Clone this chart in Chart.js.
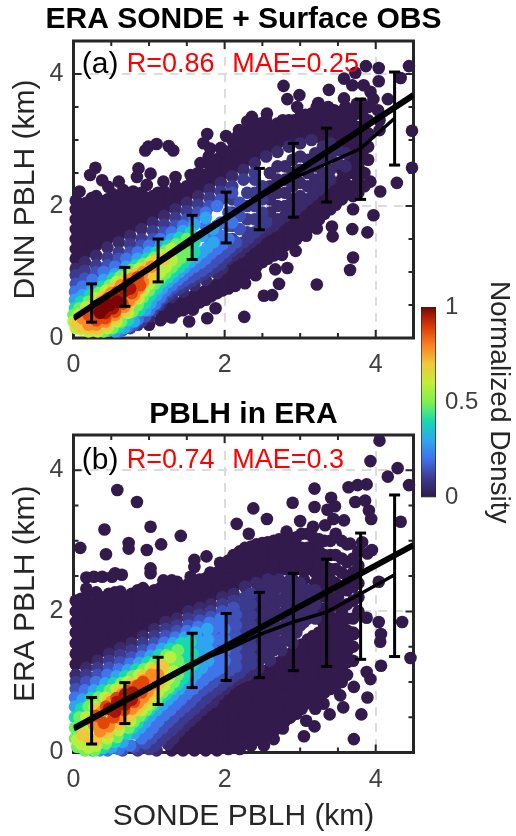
<!DOCTYPE html>
<html>
<head>
<meta charset="utf-8">
<script src="https://cdn.jsdelivr.net/npm/chart.js@4"></script>
<style>
  html, body { margin: 0; padding: 0; background: #fff; }
  body { width: 516px; height: 836px; position: relative; overflow: hidden; }
  .box { position: absolute; }
</style>
</head>
<body>
<div class="box" style="left:0;top:0;width:487px;height:382px"><canvas id="chartA"></canvas></div>
<div class="box" style="left:0;top:395px;width:487px;height:441px"><canvas id="chartB"></canvas></div>
<div class="box" style="left:410px;top:270px;width:106px;height:270px"><canvas id="chartBar"></canvas></div>
<script>
const xTickLabels = [0, 2, 4];
const yTickLabels = [0, 2, 4];
const barTickLabels = [0, 0.5, 1];
const barStops = [0, .1, .2, .3, .4, .5, .6, .7, .8, .9, 1];
const barColors = ['#2e1a47', '#3b3a8c', '#4070e8', '#2fa5f0', '#18d8b0', '#7cf050', '#c0ee3a', '#f0c83c', '#fb8022', '#d93806', '#7a0403'];
const levelColors = ['#331a4c', '#3a2a6a', '#3b3a8c', '#3f50b8', '#3f75e8', '#2fa5f0', '#18d8b0', '#6cf060', '#b8f040', '#f0c83c', '#fb8a24', '#e4460a', '#a51505', '#7a0403'];

// bins shared by both panels
const binX = [.24, .68, 1.12, 1.57, 2.02, 2.46, 2.91, 3.35, 3.8, 4.25];

// panel (a)
const aFitX = [0, 4.5];
const aFitY = [.3, 3.68];
const aMean = [.52, .78, 1.17, 1.53, 1.84, 2.12, 2.42, 2.64, 2.87, 3.33];
const aHigh = [.82, 1.07, 1.5, 1.86, 2.21, 2.57, 2.95, 3.18, 3.62, 4.03];
const aLow = [.24, .48, .85, 1.19, 1.44, 1.64, 1.83, 2.06, 2.1, 2.62];
const aNotes = ['(a)', 'R=0.86', 'MAE=0.25'];

// panel (b)
const bFitX = [0, 4.5];
const bFitY = [.34, 2.94];
const bMean = [.5, .72, 1.01, 1.27, 1.45, 1.67, 1.85, 1.99, 2.25, 2.52];
const bHigh = [.78, .99, 1.35, 1.69, 1.97, 2.27, 2.54, 2.74, 3.11, 3.65];
const bLow = [.12, .41, .68, .92, 1.02, 1.06, 1.16, 1.22, 1.32, 1.36];
const bNotes = ['(b)', 'R=0.74', 'MAE=0.3'];

// lowest density, isolated dots: [x, y]
const aOutliers = [[3.87,4.12],[4.04,4.09],[4.44,4.12],[4.33,3.94],[3.58,3.93],[3.73,4.02],[4.04,3.89],[3.69,3.83],[3.84,3.83],[2.78,3.82],[3.93,3.73],[3.38,3.76],[2.83,3.62],[2.99,3.68],[3.58,3.63],[4.16,3.62],[3.97,3.62],[3.24,3.56],[2.96,3.5],[4.03,3.45],[4.48,3.14],[4.48,2.58],[4.28,2.35],[4.06,2.22],[3.93,2.37],
  [.95,2.84],[1.1,2.94],[1.26,2.91],[1.32,2.84],[.99,2.9],[1.77,3.09],[1.72,2.95],[1.81,2.87],[1.68,2.65],[1.79,2.75],[2.02,3.06],[2.19,3.15],[2.36,3.35],[2.3,3.28],[2.56,3.4],[.29,2.58],[.22,2.47],[.38,2.39],[.46,2.29],[.6,2.37],[.08,2.22],[.86,2.57],[.84,2.44],[1.02,2.49],[1.35,2.44],[1.19,2.37],[1.55,2.47],[.66,2.24],[.79,2.22],[.97,2.32],
  [3.22,.81],[3.7,1.22],[3.66,1.03],[3.97,1.86],[3.89,1.6],[3.69,1.65],[2.26,.32],[1.77,.3],[1.53,.25],[1.88,.45],[1.58,.43],[1.3,.31],[2.52,.64],[2.63,.65],[2.72,.82],[2.67,1.04],[2.83,1.06],[2.94,1.32],[2.76,1.26],[2.49,1.18],[2.41,.95],[2.14,.79],[2.27,.83],[3.08,1.55],[3.43,1.54],[3.18,1.76],[3.42,1.69],[3.22,1.66]];

// dark cloud, one row per column: [x, y, y, ...]
const aColumns = [[.03,1.2,1.35,1.5,1.65,1.8,1.95,2.08],[.17,1.3,1.45,1.6,1.75,1.9,2.05],[.3,1.4,1.55,1.7,1.85,2,2.15],[.45,1.5,1.65,1.8,1.95,2.1],[.6,1.55,1.7,1.85,2,2.15],[.75,1.65,1.8,1.95,2.1],[.9,1.75,1.9,2.05,2.2],[1.05,1.85,2,2.15],[1.2,1.95,2.1,2.22],[1.35,2.05,2.2,2.3],[1.5,2.15,2.3],[1.65,2.25,2.4,2.5],[1.8,2.35,2.5,2.62],[1.95,2.45,2.6,2.75,2.88],[2.1,2.55,2.7,2.85,3],[2.25,2.65,2.8,2.95,3.1],[2.4,2.75,2.9,3.05,3.2],[2.55,2.85,3,3.15,3.3],[2.7,2.95,3.1,3.25],[2.85,3,3.15,3.3],[3,3.05,3.2,3.35],[3.15,3.1,3.25,3.4],[3.3,3,3.15,3.3,3.45],[3.45,3,3.15,3.3,3.45],[3.6,2.9,3.05,3.2,3.35,3.5],[3.75,2.7,2.85,3,3.2,3.4,3.55],[3.9,2.7,2.9,3.1,3.3,3.5],[4.05,3.15,3.3],
  [1,.2],[1.15,.27,.4],[1.3,.38,.5],[1.45,.42,.55],[1.6,.5,.65],[1.75,.58,.72],[1.9,.68,.82],[2.05,.75,.9,1.05],[2.2,.88,1.02,1.17],[2.35,1,1.15,1.3],[2.5,1.15,1.3,1.45],[2.65,1.25,1.4,1.55],[2.8,1.4,1.55,1.7],[2.95,1.5,1.65,1.8],[3.1,1.65,1.8,1.95],[3.25,1.8,1.95,2.1],[3.4,1.95,2.1,2.25],[3.55,2.1,2.25,2.4,2.55],[3.7,1.95,2.15,2.3,2.5,2.7],[3.85,2.3,2.5]];
const aColumnsFill = [[.1,1.28,1.43,1.58,1.73,1.88,2.03],[.24,1.38,1.53,1.68,1.83,1.98,2.12],[.37,1.47,1.62,1.77,1.92,2.07],[.52,1.58,1.73,1.88,2.03,2.18],[.67,1.62,1.77,1.92,2.07],[.82,1.72,1.87,2.02,2.17],[.97,1.82,1.97,2.12],[1.12,1.92,2.07,2.2],[1.27,2.02,2.17],[1.42,2.12,2.25],[1.57,2.22,2.36],[1.72,2.32,2.47],[1.87,2.42,2.57,2.7],[2.02,2.52,2.67,2.82],[2.17,2.62,2.77,2.92,3.05],[2.32,2.72,2.87,3.02,3.15],[2.47,2.82,2.97,3.12,3.25],[2.62,2.9,3.05,3.2],[2.77,3,3.15,3.3],[2.92,3.05,3.2,3.3],[3.07,3.1,3.25,3.38],[3.22,3.08,3.22,3.38,3.5],[3.37,3.08,3.22,3.38,3.5],[3.52,2.98,3.12,3.28,3.42],[3.67,2.8,2.95,3.1,3.28,3.45],[3.82,2.8,3,3.2,3.4,3.55],
  [1.22,.33,.45],[1.37,.4,.52],[1.52,.46,.6],[1.67,.54,.68],[1.82,.63,.77],[1.97,.72,.87],[2.12,.82,.97,1.12],[2.27,.95,1.1,1.25],[2.42,1.08,1.22,1.38],[2.57,1.2,1.35,1.5],[2.72,1.32,1.47,1.62],[2.87,1.45,1.6,1.75],[3.02,1.58,1.72,1.88],[3.17,1.72,1.88,2.02],[3.32,1.88,2.02,2.18],[3.47,2.02,2.18,2.32],[3.62,2.18,2.32,2.48,2.62],[3.77,2.2,2.4,2.6,2.8]];

const aLevel1 = [[.03,1.05],[.15,1.15],[.3,1.25],[.45,1.37],[.6,1.45],[.75,1.55],[.9,1.65],[1.05,1.75],[1.2,1.85],[1.35,1.95],[1.5,2.05],[1.65,2.15],[1.8,2.25],[1.95,2.35],[2.1,2.45],[2.25,2.55],[2.4,2.65],[2.55,2.75],[2.7,2.82],[2.85,2.9],[3,2.95],[3.15,3],[.85,.2],[1,.32],[1.15,.5],[1.3,.62],[1.45,.7],[1.6,.8],[1.75,.88],[1.9,.98],[2.05,1.2],[2.2,1.3],[2.35,1.45],[2.5,1.6],[2.65,1.7],[2.8,1.85],[2.95,1.95],[3.1,2.1],[3.25,2.25],[3.4,2.4],[2.6,1.9],[2.6,2.1],[2.6,2.3],[2.6,2.5],[2.8,2],[2.8,2.2],[2.8,2.4],[2.8,2.6],[3,2.15],[3,2.35],[3,2.55],[3,2.75],[3.2,2.4],[3.2,2.6],[3.2,2.8],[3.4,2.55],[3.4,2.75],[3.4,2.95],[3.6,2.6],[3.6,2.8],[2.7,1.8],[2.7,2],[2.7,2.2],[2.7,2.4],[2.7,2.6],[2.9,2.1],[2.9,2.3],[2.9,2.5],[2.9,2.7],[3.1,2.3],[3.1,2.5],[3.1,2.7],[3.3,2.5],[3.3,2.7],[3.3,2.9],[3.5,2.65],[3.5,2.85],[1.97,1.05],[2.12,1.25],[2.27,1.38],[2.42,1.52],[2.57,1.65],[2.72,1.78],[2.87,1.9],[3.02,2.02],[3.17,2.17],[3.32,2.32]];
const aLevel2 = [[.03,.95],[.15,1.02],[.3,1.1],[.45,1.22],[.6,1.3],[.75,1.42],[.9,1.5],[1.05,1.62],[1.2,1.72],[1.35,1.82],[1.5,1.92],[1.65,2.02],[1.8,2.12],[1.95,2.22],[2.1,2.3],[2.25,2.4],[2.4,2.5],[.75,.15],[.9,.25],[1.05,.42],[1.2,.6],[1.35,.72],[1.5,.82],[1.65,.92],[1.8,1.02],[1.95,1.12],[2.1,1.32],[2.25,1.45],[2.4,1.6],[2.55,1.75],[2.1,1.5],[2.1,1.7],[2.1,1.9],[2.1,2.1],[2.3,1.6],[2.3,1.8],[2.3,2],[2.3,2.2],[2.5,1.9],[2.5,2.1],[2.5,2.3],[1.12,.5],[1.27,.66],[1.42,.77],[1.57,.87],[1.72,.97],[1.87,1.07],[2.02,1.22],[2.17,1.38],[2.32,1.52],[2.47,1.67],[2.4,1.8],[2.4,2],[2.4,2.2],[2.4,2.4]];
const aLevel3 = [[.03,.82],[.15,.9],[.3,1],[.45,1.1],[.6,1.2],[.75,1.3],[.9,1.4],[1.05,1.5],[1.2,1.6],[1.35,1.7],[1.5,1.8],[1.65,1.9],[1.8,2],[1.95,2.1],[2.1,2.2],[.65,.12],[.8,.2],[.95,.33],[1.1,.52],[1.25,.7],[1.4,.82],[1.55,.92],[1.7,1.02],[1.85,1.15],[2,1.3],[2.15,1.45],[1.9,1.5],[1.9,1.7],[2.05,1.5],[2.05,1.7],[2.05,1.9],[2.2,1.65],[2.2,1.85],[2.2,2.05],[1.02,.42],[1.17,.6],[1.32,.76],[1.47,.87],[1.62,.97],[1.77,1.08],[1.92,1.22],[2.07,1.37]];
const aLevel4 = [[.02,.7],[.12,.78],[.25,.88],[.4,1],[.55,1.08],[.7,1.2],[.85,1.3],[1,1.4],[1.15,1.5],[1.3,1.6],[1.45,1.7],[1.6,1.8],[1.75,1.9],[1.9,2],[.6,.1],[.72,.17],[.85,.28],[1,.42],[1.15,.62],[1.3,.8],[1.45,.95],[1.6,1.08],[1.75,1.2],[1.9,1.35],[2.05,1.5],[1.8,1.5],[1.95,1.55],[1.95,1.75],[2.1,1.75],[1.75,1.7],[1.08,.52],[1.22,.72],[1.38,.88],[1.52,1.02],[1.68,1.14],[1.82,1.28],[1.97,1.42]];
const aLevel5 = [[.02,.58],[.12,.65],[.25,.75],[.4,.88],[.55,.97],[.7,1.08],[.85,1.2],[1,1.3],[1.15,1.4],[1.3,1.5],[1.45,1.62],[1.6,1.72],[1.75,1.82],[.55,.1],[.67,.15],[.8,.25],[.95,.42],[1.1,.65],[1.25,.85],[1.4,1],[1.55,1.15],[1.7,1.3],[1.85,1.45],[1.7,1.55],[1.55,1.4],[1.85,1.65],[1.02,.53],[1.17,.75],[1.32,.92],[1.47,1.07],[1.62,1.22],[1.77,1.37]];
const aLevel6 = [[.02,.45],[.1,.55],[.22,.65],[.38,.78],[.52,.9],[.68,1],[.82,1.1],[.97,1.2],[1.1,1.3],[1.25,1.4],[1.4,1.52],[1.55,1.6],[.48,.12],[.6,.17],[.72,.27],[.87,.42],[1.02,.65],[1.17,.85],[1.32,1],[1.47,1.15],[1.6,1.3],[1.45,1.35],[1.6,1.45],[.95,.53],[1.1,.75],[1.25,.92],[1.4,1.07],[1.53,1.22]];
const aLevel7 = [[0,.35],[.08,.45],[.2,.55],[.33,.68],[.48,.8],[.62,.93],[.77,1.03],[.92,1.12],[1.07,1.22],[1.22,1.32],[1.36,1.42],[1.5,1.5],[.4,.1],[.52,.15],[.63,.25],[.78,.4],[.92,.62],[1.07,.82],[1.22,.98],[1.36,1.15],[1.5,1.3],[.85,.5],[1,.72],[1.15,.9],[1.3,1.07],[1.43,1.22]];
const aLevel8 = [[0,.25],[.07,.35],[.17,.47],[.3,.6],[.43,.72],[.57,.85],[.72,.95],[.87,1.05],[1.02,1.15],[1.17,1.25],[1.3,1.35],[.03,.15],[.1,.13],[.2,.1],[.32,.1],[.45,.15],[.57,.25],[.72,.38],[.86,.6],[1,.82],[1.15,1],[1.3,1.18],[.93,.72],[1.08,.92],[1.22,1.08]];
const aLevel9 = [[.04,.22],[.12,.2],[.15,.38],[.27,.5],[.4,.62],[.53,.75],[.67,.87],[.82,.97],[.97,1.08],[1.1,1.18],[1.2,1.2],[.1,.17],[.2,.15],[.32,.14],[.43,.2],[.55,.3],[.68,.42],[.82,.62],[.95,.85],[1.05,1],[.75,.52],[.88,.74],[1,.93]];
const aLevel10 = [[.12,.3],[.25,.42],[.37,.55],[.5,.68],[.63,.8],[.77,.9],[.92,1],[1.03,1.08],[.2,.2],[.3,.2],[.42,.25],[.55,.35],[.67,.47],[.8,.65],[.92,.85],[.73,.56],[.86,.75]];
const aLevel11 = [[.2,.35],[.32,.48],[.45,.6],[.58,.7],[.72,.82],[.85,.92],[.3,.27],[.42,.3],[.55,.4],[.65,.52],[.77,.68],[.88,.8]];
const aLevel12 = [[.33,.42],[.45,.52],[.55,.6],[.68,.72],[.75,.75],[.42,.38],[.52,.45],[.62,.55]];
const aLevel13 = [[.4,.45],[.48,.5],[.58,.55],[.35,.38]];

const bOutliers = [[4.05,4.42],[3.93,4.13],[4.29,4.03],[4.16,3.91],[4.44,3.79],[3.64,3.76],[3.76,3.79],[3.88,3.8],[3.19,3.74],[3.41,3.61],[3.73,3.55],[3.86,3.57],[3.91,3.43],[3.94,3.31],[2.9,3.54],[3.19,3.48],[3.36,3.44],[3.46,3.49],[2.38,3.46],[2.56,3.31],[2.16,3.24],[3,3.28],[4.33,3.27],[2.32,3.1],[2.82,3.13],[3.58,3.29],[3.44,3.31],[3.33,3.22],
  [.58,3.72],[.84,3.55],[.41,3.16],[1.02,3.2],[1.42,3.07],[.09,2.9],[.73,2.97],[.73,2.89],[1.16,2.95],[.97,2.87],[.43,2.81],[1.76,2.78],[1.6,2.73],[1.94,2.69],[1.6,2.63],[1.02,2.61],[1.02,2.54],[.17,2.48],[.27,2.49],[.38,2.49],[.55,2.54],[.64,2.52],[.51,2.49],[.17,2.32],[.3,2.27],[1.19,2.44],[1.3,2.44],[1.55,2.49],[1.52,2.39],[1.81,2.55],[3.66,2.96],[3.82,2.98],[3.95,2.87],[4.04,2.42],[3.89,2.82],
  [4.46,1.34],[4.35,1.85],[4.04,1.85],[4.07,1.68],[4.06,1.57],[4.07,1.23],[3.88,1.91],[3.71,1.68],[3.93,1.04],[3.89,.78],[3.81,.54],[3.71,.19],[3.57,.64],[3.39,.54],[3.19,.37],[3.05,.23],[3.08,.45],[2.85,.49],[2.77,.34],[2.65,.19],[2.52,.1],[3.88,1.14],[3.71,.93],[3.53,.81],[3.2,.62],[3.31,.69]];

const bColumns = [[.03,1.25,1.4,1.55,1.7,1.85,2,2.15],[.17,1.3,1.45,1.6,1.75,1.9,2.05,2.2],[.32,1.4,1.55,1.7,1.85,2,2.15],[.47,1.5,1.65,1.8,1.95,2.1,2.25],[.62,1.55,1.7,1.85,2,2.15,2.28],[.77,1.65,1.8,1.95,2.1,2.25],[.92,1.75,1.9,2.05,2.2,2.33],[1.07,1.85,2,2.15,2.3],[1.22,1.95,2.1,2.25],[1.37,2,2.15,2.3,2.42],[1.52,2.1,2.25],[1.67,2.15,2.3,2.45],[1.82,2.2,2.35,2.5],[1.97,2.3,2.45,2.6],[2.12,2.35,2.5,2.65,2.8],[2.27,2.45,2.6,2.75,2.9],[2.42,2.5,2.65,2.8,2.95],[2.57,2.55,2.7,2.85,2.98],[2.72,2.6,2.75,2.9,3.02],[2.87,2.6,2.75,2.9,3],[3.02,2.6,2.75,2.9,3.1],[3.17,2.6,2.75,2.9,3.05,3.2],[3.32,2.5,2.65,2.8,3],[3.47,2.4,2.6,2.8,3.1],[3.62,2.3,2.5,2.7,2.95],[3.77,2,2.2,2.4,2.65,2.85],
  [1.3,.03],[1.45,.03,.15,.3],[1.6,.03,.18,.33,.45],[1.75,.03,.18,.33,.48,.6],[1.9,.03,.18,.33,.48,.63,.75],[2.05,.05,.2,.35,.5,.65,.78],[2.2,.05,.2,.35,.5,.65,.8,.93],[2.35,.1,.25,.4,.55,.7,.85,1],[2.5,.2,.35,.5,.65,.8,.95,1.1],[2.65,.3,.45,.6,.75,.9,1.05,1.2],[2.8,.45,.6,.75,.9,1.05,1.2,1.35],[2.95,.55,.7,.85,1,1.15,1.3,1.45],[3.1,.7,.85,1,1.15,1.3,1.45,1.6],[3.25,.8,.95,1.1,1.25,1.4,1.55,1.7],[3.4,.9,1.05,1.2,1.35,1.5,1.65,1.8],[3.55,1,1.2,1.35,1.5,1.65,1.8,2],[3.7,1.3,1.5,1.7,1.9]];
const bColumnsFill = [[.1,1.28,1.43,1.58,1.73,1.88,2.03,2.18],[.25,1.35,1.5,1.65,1.8,1.95,2.1],[.4,1.45,1.6,1.75,1.9,2.05,2.2],[.55,1.52,1.67,1.82,1.97,2.12,2.27],[.7,1.6,1.75,1.9,2.05,2.2],[.85,1.7,1.85,2,2.15,2.3],[1,1.8,1.95,2.1,2.25],[1.15,1.9,2.05,2.2,2.33],[1.3,1.97,2.12,2.27,2.38],[1.45,2.05,2.2,2.35],[1.6,2.12,2.27,2.4],[1.75,2.17,2.32,2.47],[1.9,2.25,2.4,2.55],[2.05,2.32,2.47,2.62,2.72],[2.2,2.4,2.55,2.7,2.85],[2.35,2.47,2.62,2.77,2.92],[2.5,2.52,2.67,2.82,2.97],[2.65,2.57,2.72,2.87,3],[2.8,2.6,2.75,2.9,3.02],[2.95,2.6,2.75,2.9,3.05],[3.1,2.6,2.75,2.9,3.1],[3.25,2.55,2.7,2.85,3.02],[3.4,2.45,2.6,2.8,3],[3.55,2.35,2.55,2.75,3],[3.7,2.15,2.35,2.55,2.75],
  [1.37,.1,.22],[1.52,.1,.25,.38],[1.67,.1,.25,.4,.53],[1.82,.1,.25,.4,.55,.68],[1.97,.1,.25,.4,.55,.7,.83],[2.12,.12,.28,.43,.58,.72,.87],[2.27,.15,.3,.45,.6,.75,.9,1.03],[2.42,.18,.33,.48,.63,.78,.93,1.08],[2.57,.27,.42,.57,.72,.87,1.02,1.17],[2.72,.38,.53,.68,.83,.98,1.13,1.28],[2.87,.5,.65,.8,.95,1.1,1.25,1.4],[3.02,.62,.78,.93,1.08,1.23,1.38,1.53],[3.17,.75,.9,1.05,1.2,1.35,1.5,1.65],[3.32,.85,1,1.15,1.3,1.45,1.6,1.75,1.9],[3.47,.95,1.12,1.28,1.43,1.58,1.73,1.9,2.1],[3.62,1.1,1.28,1.43,1.58,1.73,1.9,2.1],
  [2.9,2.45,2.6],[3.05,2.45,2.6],[3.2,2.4,2.55],[3.35,2.2,2.35,2.05],[3.25,2.05,2.2,2.35],[3.4,1.9,2.05,2.2],[3.5,2.2,2.35],[3.3,1.85,1.7]];

const bLevel1 = [[.03,1.1],[.17,1.2],[.32,1.3],[.47,1.4],[.62,1.48],[.77,1.55],[.92,1.65],[1.07,1.75],[1.22,1.85],[1.37,1.9],[1.52,2],[1.67,2.05],[1.82,2.1],[1.97,2.2],[2.12,2.25],[2.27,2.35],[2.42,2.4],[2.57,2.45],[2.72,2.45],[2.87,2.45],[1.1,.03],[1.25,.12],[1.4,.3],[1.55,.45],[1.7,.6],[1.85,.72],[2,.9],[2.15,1.03],[2.3,1.1],[2.45,1.2],[2.6,1.3],[2.75,1.45],[2.9,1.55],[2.4,1.4],[2.4,1.6],[2.4,1.8],[2.4,2],[2.4,2.2],[2.6,1.5],[2.6,1.7],[2.6,1.9],[2.6,2.1],[2.6,2.3],[2.8,1.6],[2.8,1.8],[2.8,2],[2.8,2.2],[2.8,2.4],[3,1.8],[3,2],[3,2.2],[3,2.4],[3.2,1.9],[3.2,2.1],[3.2,2.3],[2.5,1.4],[2.5,1.6],[2.5,1.8],[2.5,2],[2.5,2.2],[2.7,1.55],[2.7,1.75],[2.7,1.95],[2.7,2.15],[2.7,2.35],[2.9,1.7],[2.9,1.9],[2.9,2.1],[2.9,2.3],[3.1,1.9],[3.1,2.1],[3.1,2.3],[1.32,.2],[1.47,.38],[1.62,.52],[1.77,.67],[1.92,.82],[2.07,.97],[2.22,1.07],[2.37,1.15],
  [2.45,1.3],[2.45,1.5],[2.45,1.7],[2.45,1.9],[2.45,2.1],[2.45,2.3],[2.55,1.4],[2.55,1.6],[2.55,1.8],[2.55,2],[2.55,2.2],[2.55,2.38],[2.65,1.45],[2.65,1.65],[2.65,1.85],[2.65,2.05],[2.65,2.25],[2.65,2.42],[2.75,1.55],[2.75,1.75],[2.75,1.95],[2.75,2.15],[2.75,2.35],[2.85,1.65],[2.85,1.85],[2.85,2.05],[2.85,2.25],[2.85,2.4],[2.95,1.7],[2.95,1.9],[2.95,2.1],[2.95,2.3],[3.05,1.85],[3.05,2.05],[3.05,2.25],[3.15,2],[3.15,2.2]];
const bLevel2 = [[.03,1],[.17,1.1],[.32,1.2],[.47,1.3],[.62,1.38],[.77,1.45],[.92,1.55],[1.07,1.65],[1.22,1.75],[1.37,1.8],[1.52,1.9],[1.67,1.95],[1.82,2],[1.97,2.1],[2.12,2.15],[2.27,2.2],[.85,.03],[1,.05],[1.15,.17],[1.3,.32],[1.45,.48],[1.6,.62],[1.75,.77],[1.9,.9],[2.05,1.02],[2.2,1.13],[2.35,1.25],[2.1,1.3],[2.1,1.5],[2.1,1.7],[2.1,1.9],[2.3,1.4],[2.3,1.6],[2.3,1.8],[2.3,2],[1.08,.1],[1.22,.25],[1.38,.4],[1.52,.55],[1.68,.7],[1.82,.84],[1.97,.96],[2.12,1.08],[2.27,1.2],[2.2,1.3],[2.2,1.5],[2.2,1.7],[2.2,1.9],[2.25,1.35],[2.25,1.5],[2.25,1.65],[2.25,1.8],[2.25,1.95],[2.25,2.08],[2.35,1.35],[2.35,1.5],[2.35,1.65],[2.35,1.8],[2.35,1.95],[2.35,2.1],[2.35,2.25]];
const bLevel3 = [[.03,.9],[.17,1],[.32,1.1],[.47,1.2],[.62,1.28],[.77,1.35],[.92,1.45],[1.07,1.55],[1.22,1.65],[1.37,1.72],[1.52,1.8],[1.67,1.87],[1.82,1.92],[1.97,2],[2.12,2.05],[.65,.03],[.8,.08],[.95,.13],[1.1,.28],[1.25,.43],[1.4,.58],[1.55,.72],[1.7,.88],[1.85,1],[2,1.12],[2.15,1.22],[1.95,1.3],[1.95,1.5],[1.95,1.7],[2.1,1.4],[2.1,1.6],[2.1,1.8],[1.03,.2],[1.18,.35],[1.32,.5],[1.48,.65],[1.62,.8],[1.78,.94],[1.92,1.06],[2.07,1.17],[2.15,1.35],[2.15,1.5],[2.15,1.65],[2.15,1.8],[2.15,1.95],[2.05,1.35],[2.05,1.5],[2.05,1.65],[2.05,1.95]];
const bLevel4 = [[.02,.78],[.15,.88],[.3,1],[.45,1.1],[.6,1.18],[.75,1.26],[.9,1.36],[1.05,1.46],[1.2,1.56],[1.35,1.63],[1.5,1.72],[1.65,1.78],[1.8,1.84],[1.95,1.9],[.45,.03],[.6,.05],[.75,.1],[.9,.2],[1.05,.35],[1.2,.53],[1.35,.68],[1.5,.83],[1.65,.97],[1.8,1.1],[1.95,1.2],[1.8,1.3],[1.8,1.5],[1.8,1.7],[1.95,1.4],[1.95,1.6],[.98,.27],[1.12,.44],[1.28,.6],[1.42,.75],[1.58,.9],[1.72,1.03],[1.88,1.15],[1.85,1.3],[1.85,1.45],[1.85,1.6],[1.85,1.75],[1.75,1.25],[1.75,1.4],[1.75,1.65],[2,1.3],[2,1.45],[2,1.6],[2,1.75],[1.9,1.25],[1.9,1.8]];
const bLevel5 = [[.02,.65],[.12,.75],[.27,.88],[.42,.98],[.57,1.08],[.72,1.17],[.87,1.27],[1.02,1.37],[1.17,1.47],[1.32,1.55],[1.47,1.63],[1.62,1.7],[1.77,1.75],[.35,.03],[.5,.07],[.65,.15],[.8,.27],[.95,.43],[1.1,.6],[1.25,.75],[1.4,.9],[1.55,1.03],[1.7,1.2],[1.7,1.4],[1.7,1.55],[.88,.35],[1.02,.52],[1.18,.68],[1.32,.82],[1.48,.97],[1.62,1.12],[1.63,1.3],[1.63,1.45],[1.63,1.6],[1.78,1.3],[1.78,1.45],[1.78,1.6]];
const bLevel6 = [[.02,.5],[.1,.62],[.23,.77],[.38,.88],[.53,.98],[.68,1.08],[.83,1.18],[.98,1.28],[1.13,1.38],[1.28,1.47],[1.43,1.55],[1.55,1.57],[.25,.03],[.4,.07],[.55,.15],[.7,.27],[.85,.42],[1,.6],[1.15,.75],[1.3,.9],[1.45,1.05],[1.58,1.25],[1.58,1.4],[.78,.35],[.92,.52],[1.08,.68],[1.22,.82],[1.38,.97],[1.52,1.15],[1.5,1.3],[1.5,1.45],[1.42,1.35]];
const bLevel7 = [[.02,.35],[.02,.2],[.05,.08],[.15,.03],[.08,.5],[.2,.65],[.33,.78],[.48,.88],[.63,.98],[.78,1.08],[.93,1.18],[1.08,1.28],[1.23,1.38],[1.38,1.45],[.28,.03],[.43,.13],[.58,.22],[.73,.35],[.88,.52],[1.03,.68],[1.18,.85],[1.33,1],[1.42,1.2],[.8,.44],[.96,.6],[1.1,.76],[1.26,.92],[1.38,1.1],[1.3,1.2],[1.3,1.32],[1.38,1.3]];
const bLevel8 = [[.05,.18],[.1,.12],[.15,.3],[.17,.5],[.28,.65],[.42,.78],[.57,.9],[.72,1],[.87,1.1],[1.02,1.2],[1.17,1.3],[1.28,1.35],[.2,.07],[.3,.1],[.45,.2],[.6,.32],[.75,.45],[.9,.6],[1.05,.78],[1.2,.95],[1.32,1.15],[.98,.68],[1.12,.86],[1.26,1.05],[1.2,1.15]];
const bLevel9 = [[.12,.25],[.2,.2],[.23,.45],[.33,.62],[.47,.75],[.62,.87],[.77,.98],[.92,1.08],[1.07,1.18],[1.18,1.22],[.3,.18],[.45,.28],[.6,.4],[.75,.52],[.9,.68],[1.03,.85],[1.15,1],[.83,.6],[.97,.76],[1.09,.92]];
const bLevel10 = [[.27,.4],[.38,.58],[.5,.72],[.65,.83],[.8,.93],[.93,1.02],[1.03,1.1],[1.12,1.1],[.35,.3],[.47,.37],[.62,.48],[.77,.62],[.92,.78],[1.03,.95],[.85,.7],[.98,.86]];
const bLevel11 = [[.3,.52],[.43,.65],[.57,.77],[.72,.87],[.85,.95],[.92,1],[.4,.42],[.53,.5],[.67,.6],[.8,.72],[.9,.85]];
const bLevel12 = [[.47,.62],[.58,.72],[.68,.82],[.78,.85],[.55,.58],[.68,.68],[.77,.75]];

const FONT = '"Liberation Sans", Arial, sans-serif';
const AXIS = '#262626';
Chart.defaults.font.family = FONT;
Chart.defaults.animation = false;
Chart.defaults.responsive = false;

function unrollColumns(columns) {
  return columns.flatMap(c => c.slice(1).map(y => [c[0], y]));
}

// ticks point inwards on all four sides, so they are drawn here and not by the scales
function frameAndNotes(notes) {
  return {
    id: 'frameAndNotes',
    beforeDatasetsDraw(chart) {
      const { ctx, chartArea: a, scales } = chart;
      ctx.save();
      ctx.strokeStyle = AXIS;
      ctx.lineWidth = 2;
      for (let v = 0; v <= 4.5; v += 0.5) {
        const big = v % 2 === 0 ? 8 : 5;
        const px = scales.x.getPixelForValue(v);
        const py = scales.y.getPixelForValue(v);
        ctx.beginPath();
        ctx.moveTo(px, a.bottom); ctx.lineTo(px, a.bottom - big);
        ctx.moveTo(px, a.top); ctx.lineTo(px, a.top + big);
        ctx.moveTo(a.left, py); ctx.lineTo(a.left + big, py);
        ctx.moveTo(a.right, py); ctx.lineTo(a.right - big, py);
        ctx.stroke();
      }
      ctx.lineWidth = 3;
      ctx.strokeRect(a.left, a.top, a.right - a.left, a.bottom - a.top);
      ctx.restore();
    },
    afterDatasetsDraw(chart) {
      const { ctx, scales } = chart;
      ctx.save();
      ctx.textBaseline = 'middle';
      ctx.textAlign = 'left';
      const y = scales.y.getPixelForValue(4.14);
      ctx.fillStyle = '#000';
      ctx.font = '30px ' + FONT;
      ctx.fillText(notes[0], scales.x.getPixelForValue(.11), y);
      ctx.fillStyle = '#ff0000';
      ctx.font = '27px ' + FONT;
      ctx.fillText(notes[1], scales.x.getPixelForValue(.705), y);
      ctx.fillText(notes[2], scales.x.getPixelForValue(2.1), y);
      ctx.restore();
    }
  };
}

function panel(id, o) {
  const datasets = [];
  o.levels.forEach((pts, i) => {
    datasets.push({
      data: pts.map(p => ({ x: p[0], y: p[1] })),
      showLine: false,
      pointRadius: 6.3,
      pointBorderWidth: 0,
      pointBackgroundColor: levelColors[i],
      clip: false,
      order: 100 - i
    });
  });
  datasets.push({
    data: o.fitX.map((x, i) => ({ x, y: o.fitY[i] })),
    showLine: true, borderColor: '#000', borderWidth: 6, pointRadius: 0, order: 3
  });
  datasets.push({
    data: binX.map((x, i) => ({ x, y: o.mean[i] })),
    showLine: true, borderColor: '#000', borderWidth: 3.5, pointRadius: 0, order: 2
  });
  binX.forEach((x, i) => {
    datasets.push({
      data: [{ x, y: o.low[i] }, { x, y: o.high[i] }],
      showLine: true, borderColor: '#000', borderWidth: 3,
      pointStyle: 'line', pointRadius: 5.5, pointBorderWidth: 3, pointBorderColor: '#000',
      clip: false, order: 1
    });
  });

  const gridFor = labels => ({
    drawTicks: false,
    color: c => (c.tick && c.tick.value > 0 && labels.includes(c.tick.value)) ? '#dcdcdc' : 'rgba(0,0,0,0)',
    lineWidth: 2
  });
  const tickText = labels => v => labels.includes(v) ? String(v) : '';

  return new Chart(document.getElementById(id), {
    type: 'scatter',
    data: { datasets },
    plugins: [frameAndNotes(o.notes)],
    options: {
      plugins: {
        legend: { display: false },
        tooltip: { enabled: false },
        title: {
          display: true, text: o.title, color: '#000',
          font: { size: 30, weight: 'bold', family: FONT, lineHeight: 1.2 },
          padding: { top: 2, bottom: o.titleGap }
        }
      },
      scales: {
        x: {
          type: 'linear', min: 0, max: 4.5,
          grid: gridFor(xTickLabels),
          border: { display: false, dash: [9, 7] },
          afterFit: s => { s.height = o.xHeight; },
          ticks: {
            stepSize: .5, autoSkip: false, maxRotation: 0, padding: o.xPad, color: '#404040',
            font: { size: 25, family: FONT }, callback: tickText(xTickLabels)
          },
          title: o.xTitle ? {
            display: true, text: o.xTitle, color: AXIS,
            font: { size: 30, family: FONT, lineHeight: 1.2 }, padding: { top: 0, bottom: 1 }
          } : { display: false }
        },
        y: {
          type: 'linear', min: 0, max: 4.5,
          grid: gridFor(yTickLabels),
          border: { display: false, dash: [9, 7] },
          afterFit: s => { s.width = 73.5; },
          ticks: {
            stepSize: .5, autoSkip: false, padding: 10, color: '#404040',
            font: { size: 25, family: FONT }, callback: tickText(yTickLabels)
          },
          title: {
            display: true, text: o.yTitle, color: AXIS,
            font: { size: 30, family: FONT, lineHeight: 1.2 }, padding: { top: 8, bottom: 0 }
          }
        },
        // empty scale on the right so the title stays centred over the plot
        yRight: {
          type: 'linear', position: 'right', min: 0, max: 4.5,
          grid: { display: false, drawTicks: false },
          border: { display: false },
          ticks: { display: false },
          afterFit: s => { s.width = 73.5; }
        }
      }
    }
  });
}

function sizeCanvas(id, w, h) {
  const c = document.getElementById(id);
  c.width = w; c.height = h;
  c.style.width = w + 'px'; c.style.height = h + 'px';
}
sizeCanvas('chartA', 487, 382);
sizeCanvas('chartB', 487, 441);
sizeCanvas('chartBar', 106, 270);

panel('chartA', {
  title: 'ERA SONDE + Surface OBS', titleGap: 3, xHeight: 44, xPad: 12,
  yTitle: 'DNN PBLH (km)', xTitle: null,
  levels: [aOutliers.concat(unrollColumns(aColumns), unrollColumns(aColumnsFill)), aLevel1, aLevel2, aLevel3, aLevel4, aLevel5, aLevel6, aLevel7, aLevel8, aLevel9, aLevel10, aLevel11, aLevel12, aLevel13],
  fitX: aFitX, fitY: aFitY, mean: aMean, high: aHigh, low: aLow, notes: aNotes
});

panel('chartB', {
  title: 'PBLH in ERA', titleGap: 2, xHeight: 83.5, xPad: 13,
  yTitle: 'ERA PBLH (km)', xTitle: 'SONDE PBLH (km)',
  levels: [bOutliers.concat(unrollColumns(bColumns), unrollColumns(bColumnsFill)), bLevel1, bLevel2, bLevel3, bLevel4, bLevel5, bLevel6, bLevel7, bLevel8, bLevel9, bLevel10, bLevel11, bLevel12],
  fitX: bFitX, fitY: bFitY, mean: bMean, high: bHigh, low: bLow, notes: bNotes
});

new Chart(document.getElementById('chartBar'), {
  type: 'bar',
  data: {
    labels: ['density'],
    datasets: [{
      data: [[0, 1]],
      barPercentage: 1,
      categoryPercentage: 1,
      borderWidth: 1,
      borderColor: AXIS,
      borderSkipped: false,
      backgroundColor: c => {
        const { chart } = c;
        if (!chart.chartArea) return barColors[0];
        const g = chart.ctx.createLinearGradient(0, chart.scales.y.getPixelForValue(0), 0, chart.scales.y.getPixelForValue(1));
        barStops.forEach((s, i) => g.addColorStop(s, barColors[i]));
        return g;
      }
    }]
  },
  options: {
    layout: { padding: { left: 11, right: 0, top: 37, bottom: 42.5 } },
    plugins: { legend: { display: false }, tooltip: { enabled: false } },
    scales: {
      x: { display: false },
      y: {
        position: 'right', min: 0, max: 1,
        grid: { display: false, drawTicks: false },
        border: { display: false },
        afterFit: s => { s.width = 80; },
        afterBuildTicks: s => { s.ticks = barTickLabels.map(value => ({ value })); },
        ticks: { padding: 9, color: '#404040', font: { size: 24, family: FONT }, callback: v => String(v) },
        title: {
          display: true, text: 'Normalized Density', color: AXIS,
          font: { size: 28, family: FONT, lineHeight: 1.2 }, padding: { top: 0, bottom: 0 }
        }
      }
    }
  }
});
</script>
</body>
</html>
